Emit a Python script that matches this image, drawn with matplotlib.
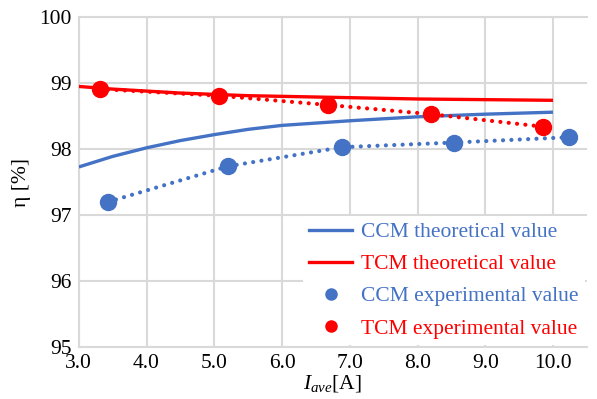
import matplotlib.pyplot as plt
from matplotlib.lines import Line2D

plt.rcParams['font.family'] = ['Liberation Serif', 'DejaVu Serif']
plt.rcParams['mathtext.fontset'] = 'custom'
plt.rcParams['mathtext.rm'] = 'Liberation Serif'
plt.rcParams['mathtext.it'] = 'Liberation Serif:italic'

# theoretical curves
theo_x = [3.0, 3.5, 4.0, 4.5, 5.0, 5.5, 6.0, 7.0, 8.0, 9.0, 10.0]
ccm_theo = [97.73, 97.89, 98.02, 98.13, 98.22, 98.30, 98.36, 98.43, 98.49, 98.53, 98.56]
tcm_theo = [98.95, 98.91, 98.88, 98.85, 98.83, 98.81, 98.80, 98.78, 98.76, 98.75, 98.74]

# experimental points
ccm_x = [3.43, 5.20, 6.89, 8.54, 10.23]
ccm_exp = [97.20, 97.74, 98.03, 98.10, 98.18]
tcm_x = [3.31, 5.07, 6.68, 8.20, 9.86]
tcm_exp = [98.91, 98.81, 98.67, 98.53, 98.34]

xticks = [3.0, 4.0, 5.0, 6.0, 7.0, 8.0, 9.0, 10.0]
yticks = [95, 96, 97, 98, 99, 100]

blue = '#4472C4'
red = '#FF0000'
grid = '#D9D9D9'
fs = 15.5

fig = plt.figure(figsize=(5.97, 3.99), dpi=100)
ax = fig.add_axes([0.132, 0.130, 0.851, 0.827])

ax.plot(theo_x, ccm_theo, color=blue, lw=2.4, solid_capstyle='butt', zorder=3)
ax.plot(theo_x, tcm_theo, color=red, lw=2.4, solid_capstyle='butt', zorder=3)
ax.plot(ccm_x, ccm_exp, color=blue, lw=3.0, ls=(0, (0.01, 2.0)),
        dash_capstyle='round', marker='o', ms=11.5, zorder=4)
ax.plot(tcm_x, tcm_exp, color=red, lw=3.0, ls=(0, (0.01, 2.0)),
        dash_capstyle='round', marker='o', ms=11.5, zorder=4)

ax.set_xlim(3.0, 10.5)
ax.set_ylim(95, 100)
ax.set_xticks(xticks)
ax.set_xticklabels(['%.1f' % v for v in xticks])
ax.set_yticks(yticks)
ax.tick_params(length=0, labelsize=fs, pad=5)
ax.grid(True, color=grid, lw=1.5)
ax.set_axisbelow(True)
ax.spines['right'].set_visible(False)
for s in ['left', 'bottom', 'top']:
    ax.spines[s].set_color(grid)
    ax.spines[s].set_linewidth(1.5)

ax.set_xlabel(r'$I_{ave}$[A]', fontsize=fs, labelpad=0)
ax.set_ylabel('η [%]', fontsize=fs, labelpad=6)

handles = [
    Line2D([], [], color=blue, lw=2.4),
    Line2D([], [], color=red, lw=2.4),
    Line2D([], [], color=blue, ls='none', marker='o', ms=8),
    Line2D([], [], color=red, ls='none', marker='o', ms=8),
]
labels = ['CCM theoretical value', 'TCM theoretical value',
          'CCM experimental value', 'TCM experimental value']
leg = ax.legend(handles, labels, loc='lower right', fontsize=fs,
                frameon=True, facecolor='white', edgecolor='none',
                framealpha=1, handlelength=2.0, handletextpad=0.4,
                labelspacing=0.56, borderaxespad=0.1, borderpad=0.3)
leg.set_zorder(5)
for t, c in zip(leg.get_texts(), [blue, red, blue, red]):
    t.set_color(c)

fig.savefig('out.png', dpi=100)
